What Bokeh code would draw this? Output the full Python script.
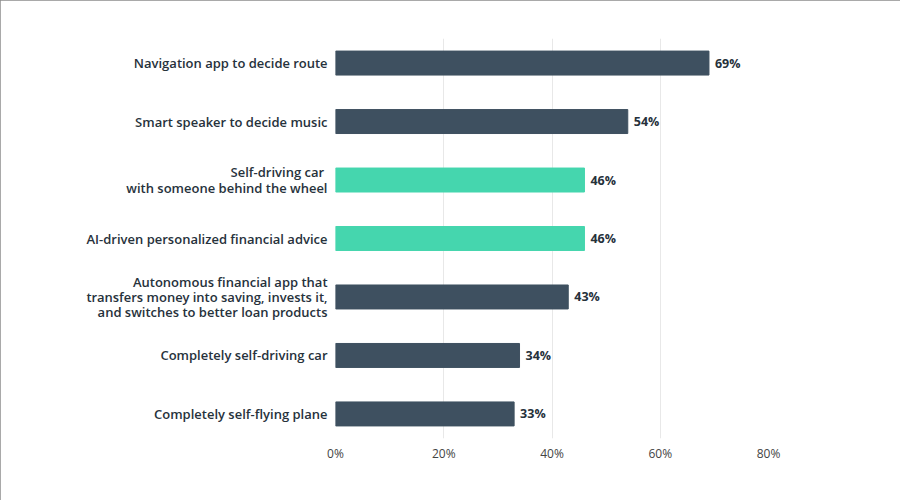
from bokeh.plotting import figure
from bokeh.models import ColumnDataSource, FactorRange, FixedTicker, CustomJSTickFormatter, InlineStyleSheet
from bokeh.core.properties import value
from bokeh.embed import file_html
from bokeh.resources import INLINE

categories = [
    "Navigation app to decide route",
    "Smart speaker to decide music",
    "Self-driving car \nwith someone behind the wheel",
    "AI-driven personalized financial advice",
    "Autonomous financial app that\ntransfers money into saving, invests it,\nand switches to better loan products",
    "Completely self-driving car",
    "Completely self-flying plane",
]
values = [69, 54, 46, 46, 43, 34, 33]
highlight = [False, False, True, True, False, False, False]
x_ticks = [0, 20, 40, 60, 80]

DARK = "#3e5060"
TEAL = "#45d6ae"

src = ColumnDataSource(dict(
    cat=categories,
    val=values,
    color=[TEAL if h else DARK for h in highlight],
    label=[f"{v}%" for v in values],
))

p = figure(
    width=900, height=500,
    y_range=FactorRange(factors=list(reversed(categories)), range_padding=-0.08,
                        range_padding_units="absolute"),
    x_range=(0, 80),
    output_backend="svg", toolbar_location=None,
    min_border_left=335, min_border_right=132, min_border_top=38, min_border_bottom=62,
)
p.outline_line_color = None
p.background_fill_color = "white"
p.border_fill_color = "white"
p.stylesheets = [InlineStyleSheet(css=":host { outline: 1px solid #8c8c8c; outline-offset: -1px; }")]

p.hbar(y="cat", right="val", left=0, height=0.41, color="color", source=src)
p.text(x="val", y="cat", text="label", source=src, x_offset=6,
       text_align="left", text_baseline="middle",
       text_font=value("Open Sans"), text_font_style="bold",
       text_font_size="12.5px", text_color="#26313b")

p.xaxis.ticker = FixedTicker(ticks=x_ticks)
p.xaxis.formatter = CustomJSTickFormatter(code="return tick + '%';")
p.xaxis.axis_line_color = None
p.xaxis.major_tick_line_color = None
p.xaxis.minor_tick_line_color = None
p.xaxis.major_tick_out = 0
p.xaxis.major_label_standoff = 6
p.xaxis.major_label_text_font = "Open Sans"
p.xaxis.major_label_text_font_size = "12px"
p.xaxis.major_label_text_color = "#444444"

p.yaxis.axis_line_color = None
p.yaxis.major_tick_line_color = None
p.yaxis.minor_tick_line_color = None
p.yaxis.major_tick_out = 0
p.yaxis.major_label_standoff = 8
p.yaxis.major_label_text_font = "Open Sans SemiBold"
p.yaxis.major_label_text_font_size = "13px"
p.yaxis.major_label_text_line_height = 0.85
p.yaxis.major_label_text_color = "#27323c"

p.ygrid.grid_line_color = None
p.xgrid.grid_line_color = "#e8e8e8"
p.xgrid.grid_line_width = 1

open("out.html", "w").write(file_html(p, INLINE))
